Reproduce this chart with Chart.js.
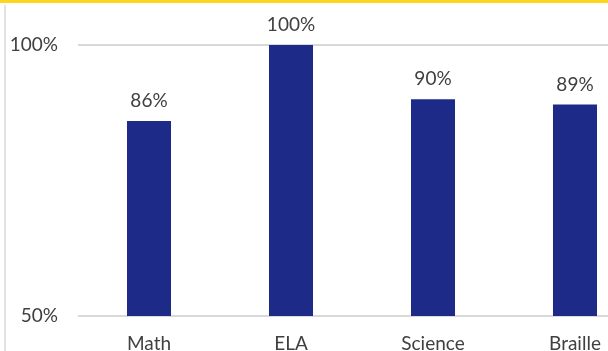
<!DOCTYPE html>
<html>
<head>
<meta charset="utf-8">
<script src="https://cdn.jsdelivr.net/npm/chart.js@4"></script>
<style>
  html, body { margin: 0; padding: 0; background: #fff; }
  #wrap { position: relative; width: 608px; height: 351px; overflow: hidden; }
  #topBar { position: absolute; left: 0; top: 0; width: 608px; height: 3px; background: #ffd520; }
  #sideLine { position: absolute; left: 4px; top: 5px; width: 2px; height: 346px; background: #e2e2e2; }
  #Chart { position: absolute; left: 0; top: 0; }
</style>
</head>
<body>
<div id="wrap">
  <canvas id="Chart" width="646" height="351"></canvas>
  <div id="topBar"></div>
  <div id="sideLine"></div>
</div>
<script>
const subjects = ["Math", "ELA", "Science", "Braille"];
const pctValues = [86, 100, 90, 89];
const yTicks = [50, 100];

const textColor = "#404040";
const fontFamily = "Lato, 'Open Sans', sans-serif";

// value labels above each bar
const barLabels = {
  id: "barLabels",
  afterDatasetsDraw(chart) {
    const ctx = chart.ctx;
    const meta = chart.getDatasetMeta(0);
    ctx.save();
    ctx.fillStyle = textColor;
    ctx.font = "19px " + fontFamily;
    ctx.textAlign = "center";
    ctx.textBaseline = "alphabetic";
    meta.data.forEach((bar, i) => {
      ctx.fillText(pctValues[i] + "%", bar.x, bar.y - 14);
    });
    ctx.restore();
  }
};

new Chart("Chart", {
  type: "bar",
  data: {
    labels: subjects,
    datasets: [{
      data: pctValues,
      backgroundColor: "#1d2a87",
      categoryPercentage: 1,
      barPercentage: 0.31
    }]
  },
  options: {
    responsive: false,
    animation: false,
    layout: { padding: { top: 45, left: 0, right: 0, bottom: 0 } },
    plugins: {
      legend: { display: false },
      tooltip: { enabled: false }
    },
    scales: {
      x: {
        grid: { display: false, drawTicks: false },
        border: { display: false },
        ticks: { color: textColor, padding: 16, font: { size: 19, family: fontFamily } },
        afterFit(scale) { scale.height = 35; }
      },
      y: {
        min: 50,
        max: 100,
        afterBuildTicks(scale) { scale.ticks = yTicks.map(v => ({ value: v })); },
        grid: { color: "#d9d9d9", lineWidth: 2, drawTicks: false },
        border: { display: false },
        ticks: {
          color: textColor,
          padding: 20,
          font: { size: 19, family: fontFamily },
          callback: v => v + "%"
        },
        afterFit(scale) { scale.width = 78; }
      }
    }
  },
  plugins: [barLabels]
});
</script>
</body>
</html>
